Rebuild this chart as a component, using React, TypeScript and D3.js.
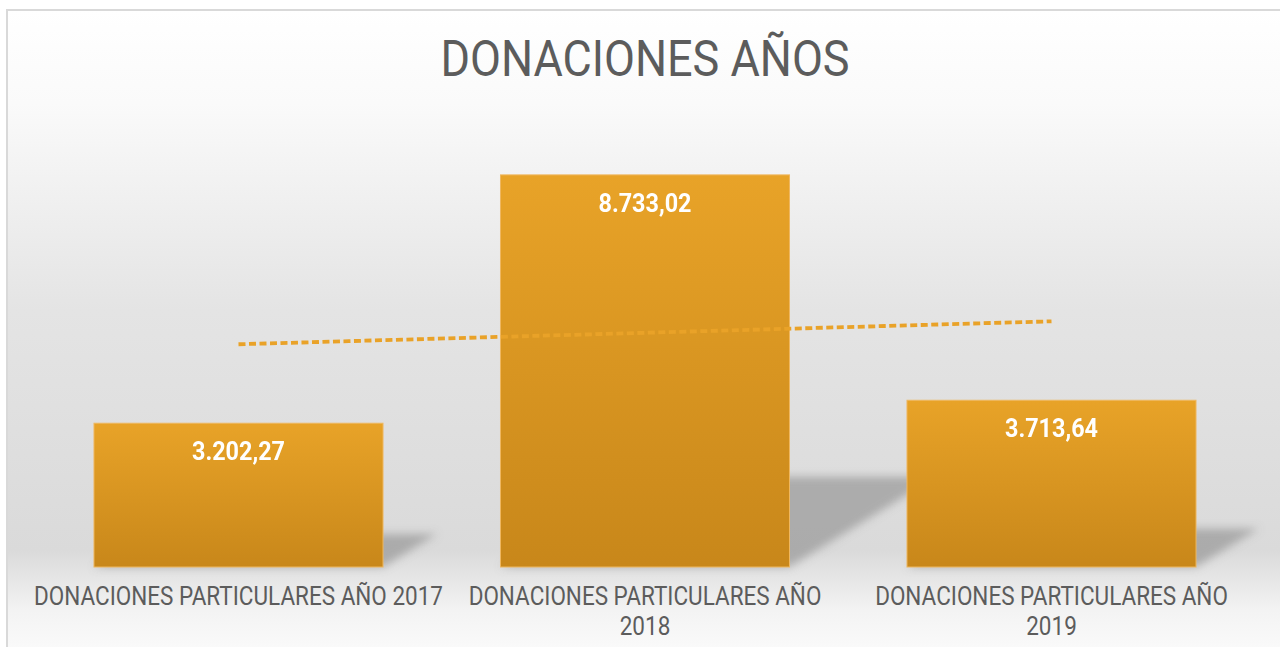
import * as d3 from 'd3'

// datos del gráfico
const categories = ['2017', '2018', '2019']
const categoryLines = [
  ['DONACIONES PARTICULARES AÑO 2017'],
  ['DONACIONES PARTICULARES AÑO', '2018'],
  ['DONACIONES PARTICULARES AÑO', '2019'],
]
const values = [3202.27, 8733.02, 3713.64]
const yDomain = [0, 10000]
const title = 'DONACIONES AÑOS'

const width = 1280
const height = 647

const esLocale = d3.formatLocale({
  decimal: ',',
  thousands: '.',
  grouping: [3],
  currency: ['', ''],
})
const fmt = esLocale.format(',.2f')

const App = () => {
  const x = d3
    .scaleBand()
    .domain(categories)
    .range([35.25, 1254.75])
    .paddingInner(0.289)
    .paddingOuter(0.1445)

  const y = d3.scaleLinear().domain(yDomain).range([567, 118])
  const base = y(0)

  // línea de tendencia (regresión lineal)
  const xs = values.map((_, i) => i + 1)
  const mx = d3.mean(xs) as number
  const my = d3.mean(values) as number
  const slope =
    d3.sum(xs.map((xi, i) => (xi - mx) * (values[i] - my))) /
    d3.sum(xs.map((xi) => (xi - mx) ** 2))
  const intercept = my - slope * mx
  const trend = xs.map((xi, i) => ({
    cx: (x(categories[i]) as number) + x.bandwidth() / 2,
    v: intercept + slope * xi,
  }))
  const trendLine = d3
    .line<{ cx: number; v: number }>()
    .x((d) => d.cx)
    .y((d) => y(d.v))

  // sombra en perspectiva detrás de cada barra
  const shadowPath = (x0: number, x1: number, h: number) => {
    const dx = h * 0.375
    const dy = h * 0.23
    return `M${x0},${base} L${x1},${base} L${x1 + dx},${base - dy} L${x0 + dx},${base - dy} Z`
  }

  return (
    <svg
      width={width}
      height={height}
      style={{ position: 'absolute', left: 0, top: 0, display: 'block' }}
    >
      <defs>
        <linearGradient id="bg" x1="0" y1="0" x2="0" y2="1">
          <stop offset="0" stopColor="#ffffff" />
          <stop offset="0.14" stopColor="#fafafa" />
          <stop offset="0.45" stopColor="#e4e4e4" />
          <stop offset="0.81" stopColor="#dadada" />
          <stop offset="0.875" stopColor="#ececec" />
          <stop offset="0.9" stopColor="#f3f3f3" />
          <stop offset="1" stopColor="#ffffff" />
        </linearGradient>
        <linearGradient id="barFill" x1="0" y1="0" x2="0" y2="1">
          <stop offset="0" stopColor="#e8a328" />
          <stop offset="1" stopColor="#c8871a" />
        </linearGradient>
        <filter id="blur" x="-20%" y="-50%" width="140%" height="200%">
          <feGaussianBlur stdDeviation="4" />
        </filter>
      </defs>

      <rect x={0} y={0} width={width} height={height} fill="#ffffff" />
      <rect
        x={7}
        y={10}
        width={width + 20}
        height={height + 20}
        fill="url(#bg)"
        stroke="#d9d9d9"
        strokeWidth={2}
      />

      <text
        transform={`translate(645,76) scale(0.9,1)`}
        textAnchor="middle"
        fontFamily="Roboto, 'Liberation Sans', sans-serif"
        fontSize={50}
        fill="#5c5c5c"
      >
        {title}
      </text>

      {/* sombras */}
      <g filter="url(#blur)">
        {values.map((v, i) => {
          const x0 = x(categories[i]) as number
          const x1 = x0 + x.bandwidth()
          return (
            <path
              key={'s' + i}
              d={shadowPath(x0, x1, base - y(v))}
              fill="#8c8c8c"
              opacity={0.6}
            />
          )
        })}
      </g>

      {/* barras */}
      {values.map((v, i) => (
        <rect
          key={'b' + i}
          x={x(categories[i])}
          y={y(v)}
          width={x.bandwidth()}
          height={base - y(v)}
          fill="url(#barFill)"
          stroke="#efb860"
          strokeWidth={1}
        />
      ))}

      <path
        d={trendLine(trend) as string}
        fill="none"
        stroke="#e9a228"
        strokeWidth={3.8}
        strokeDasharray="7,3.5"
      />

      {/* etiquetas de datos */}
      {values.map((v, i) => (
        <text
          key={'l' + i}
          transform={`translate(${(x(categories[i]) as number) + x.bandwidth() / 2},${y(v) + 37}) scale(0.9,1)`}
          textAnchor="middle"
          fontFamily="Roboto, 'Liberation Sans', sans-serif"
          fontWeight="bold"
          fontSize={26}
          fill="#ffffff"
        >
          {fmt(v)}
        </text>
      ))}

      {/* categorías */}
      {categoryLines.map((lines, i) =>
        lines.map((line, j) => (
          <text
            key={'c' + i + '-' + j}
            transform={`translate(${(x(categories[i]) as number) + x.bandwidth() / 2},${605 + j * 30}) scale(0.9,1)`}
            textAnchor="middle"
            fontFamily="Roboto, 'Liberation Sans', sans-serif"
            fontSize={25}
            fill="#5c5c5c"
          >
            {line}
          </text>
        )),
      )}
    </svg>
  )
}

export default App
